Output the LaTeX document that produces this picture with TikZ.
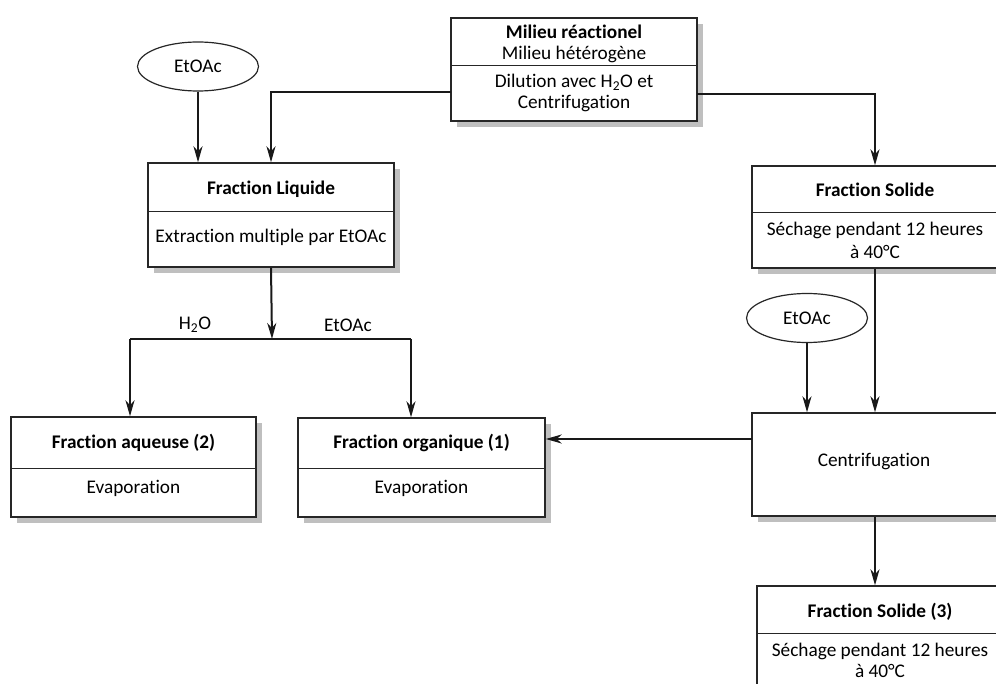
\documentclass[tikz,border=0pt]{standalone}
\usepackage{fontspec}
\setmainfont{Carlito}[Ligatures={NoCommon}]
\usetikzlibrary{arrows.meta,shadows,calc,shapes.geometric}
\begin{document}
\begin{tikzpicture}[x=1pt,y=-1pt,
  box/.style={draw=black!85,line width=1.4pt,fill=white,rectangle,inner sep=0pt,
    drop shadow={shadow xshift=6pt,shadow yshift=-6pt,fill=black!25,opacity=1}},
  plainbox/.style={draw=black!85,line width=1.4pt,fill=white,rectangle,inner sep=0pt},
  oval/.style={draw=black!85,line width=1.2pt,ellipse,inner sep=0pt,minimum width=121pt,minimum height=49pt,font=\fontsize{19.3}{22}\selectfont},
  txt/.style={inner sep=0pt,font=\fontsize{19.3}{22}\selectfont},
  btxt/.style={inner sep=0pt,font=\fontsize{19.3}{22}\selectfont\bfseries},
  div/.style={draw=black!85,line width=1.4pt},
  conn/.style={draw=black!90,line width=2pt},
  arr/.style={conn,-{Stealth[length=16pt,width=9pt,inset=5pt]}}]
\useasboundingbox (0,0) rectangle (996,684);
\clip (0,0) rectangle (996,684);

% boxes
\node[box,minimum width=246pt,minimum height=103pt] (milieu) at (574,69.5) {};
\node[box,minimum width=246pt,minimum height=104pt] (liq) at (271,215) {};
\node[box,minimum width=246pt,minimum height=102pt] (sol) at (875,217) {};
\node[box,minimum width=245pt,minimum height=100pt] (aq) at (133.5,467) {};
\node[box,minimum width=247pt,minimum height=99pt] (org) at (421.5,467.5) {};
\node[box,minimum width=246pt,minimum height=103pt] (cent) at (875,464.5) {};
\node[plainbox,minimum width=246pt,minimum height=104pt] (sol3) at (880,638) {};

% ellipses
\node[oval] (ell1) at (198,66.5) {EtOAc};
\node[oval] (ell2) at (807,318) {EtOAc};

% dividers
\draw[div] ($(milieu.north west)+(0,48)$) -- ($(milieu.north east)+(0,48)$);
\draw[div] ($(liq.north west)+(0,49)$) -- ($(liq.north east)+(0,49)$);
\draw[div] ($(sol.north west)+(0,47)$) -- ($(sol.north east)+(0,47)$);
\draw[div] ($(aq.north west)+(0,52)$) -- ($(aq.north east)+(0,52)$);
\draw[div] ($(org.north west)+(0,51)$) -- ($(org.north east)+(0,51)$);
\draw[div] ($(sol3.north west)+(0,48)$) -- ($(sol3.north east)+(0,48)$);

% texts
\node[btxt] (t1) at (574,32) {Milieu réactionel};
\node[txt] (t2) at (574,54) {Milieu hétérogène};
\node[txt] (t3) at (574,82) {Dilution avec H\textsubscript{2}O et};
\node[txt] (t4) at (574,104) {Centrifugation};
\node[btxt] (t5) at (271,189) {Fraction Liquide};
\node[txt] (t6) at (271,237) {Extraction multiple par EtOAc};
\node[btxt] (t7) at (875,190) {Fraction Solide};
\node[txt] (t8) at (875,230) {Séchage pendant 12 heures};
\node[txt] (t9) at (875,252) {à 40°C};
\node[btxt] (t10) at (133.5,443) {Fraction aqueuse (2)};
\node[txt] (t11) at (133.5,488) {Evaporation};
\node[btxt] (t12) at (421.5,443) {Fraction organique (1)};
\node[txt] (t13) at (421.5,488) {Evaporation};
\node[txt] (t14) at (874,462) {Centrifugation};
\node[btxt] (t15) at (880,612) {Fraction Solide (3)};
\node[txt] (t16) at (880,651) {Séchage pendant 12 heures};
\node[txt] (t17) at (880,671) {à 40°C};
\node[txt] (lh2o) at (195,325) {H\textsubscript{2}O};
\node[txt] (letoac) at (348,325) {EtOAc};

% coordinates
\coordinate (mL) at (451,92);
\coordinate (mR) at (697,94);
\coordinate (jn) at (272,339);
\coordinate (jL) at (130,339);
\coordinate (jR) at (411,339);
\coordinate (cW) at (752,439);

% connectors
\draw[arr] (mL) -| (liq.north);
\draw[arr] (mR) -| (sol.north);
\draw[arr] (ell1.south) -- (ell1.south |- liq.north);
\draw[arr] (liq.south) -- (jn);
\draw[conn] (jL) -- (jR);
\draw[arr] (jL) -- (jL |- aq.north);
\draw[arr] (jR) -- (jR |- org.north);
\draw[arr] (sol.south) -- (cent.north);
\draw[arr] (ell2.south) -- (ell2.south |- cent.north);
\draw[arr] (cW) -- (cW -| org.east);
\draw[arr] (cent.south) -- (cent.south |- sol3.north);
\end{tikzpicture}
\end{document}
